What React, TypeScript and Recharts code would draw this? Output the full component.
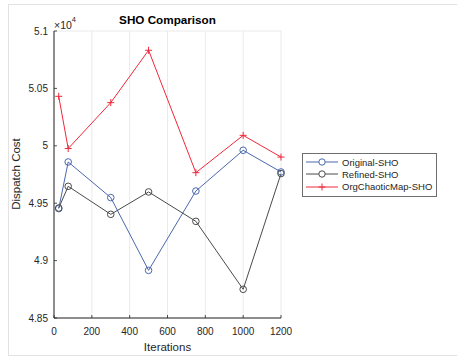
import React from 'react';
import { LineChart, Line, XAxis, YAxis, CartesianGrid } from 'recharts';

const iterations = [25, 75, 300, 500, 750, 1000, 1200];
const originalSHO = [49453, 49859, 49549, 48915, 49606, 49961, 49772];
const refinedSHO = [49458, 49647, 49403, 49598, 49342, 48750, 49758];
const chaoticSHO = [50431, 49976, 50376, 50832, 49766, 50091, 49902];

const xTicks = [0, 200, 400, 600, 800, 1000, 1200];
const yTicks = [48500, 49000, 49500, 50000, 50500, 51000];

const FONT = '"Liberation Sans", Arial, Helvetica, sans-serif';
const AXIS = '#262626';
const BLUE = '#4a68ad';
const GRAY = '#4a4a4a';
const RED = '#f0283a';

const series = [
  { key: 'original', name: 'Original-SHO', color: BLUE, marker: 'circle' },
  { key: 'refined', name: 'Refined-SHO', color: GRAY, marker: 'circle' },
  { key: 'chaotic', name: 'OrgChaoticMap-SHO', color: RED, marker: 'plus' },
];

const data = iterations.map((it, i) => ({
  it,
  original: originalSHO[i],
  refined: refinedSHO[i],
  chaotic: chaoticSHO[i],
}));

const fmtY = (v: number) => String(parseFloat((v / 1e4).toFixed(2)));

const BottomTick = (p: any) => (
  <g>
    <line x1={p.x} x2={p.x} y1={p.y} y2={p.y - 3} stroke={AXIS} strokeWidth={0.8} />
    <text x={p.x} y={p.y + 17} textAnchor="middle" fontSize={10} fill={AXIS} fontFamily={FONT}>
      {p.payload.value}
    </text>
  </g>
);

const TopTick = (p: any) => (
  <line x1={p.x} x2={p.x} y1={p.y} y2={p.y + 3} stroke={AXIS} strokeWidth={0.8} />
);

const LeftTick = (p: any) => (
  <g>
    <line x1={p.x} x2={p.x + 3} y1={p.y} y2={p.y} stroke={AXIS} strokeWidth={0.8} />
    <text x={p.x - 6} y={p.y + 3.5} textAnchor="end" fontSize={10} fill={AXIS} fontFamily={FONT}>
      {fmtY(p.payload.value)}
    </text>
  </g>
);

const RightTick = (p: any) => (
  <line x1={p.x} x2={p.x - 3} y1={p.y} y2={p.y} stroke={AXIS} strokeWidth={0.8} />
);

const PlusDot = (p: any) => {
  const { cx, cy, index } = p;
  if (cx == null || cy == null) return <g key={index} />;
  return (
    <path
      key={index}
      d={`M${cx - 3.5},${cy}h7M${cx},${cy - 3.5}v7`}
      stroke={RED}
      strokeWidth={1}
      fill="none"
    />
  );
};

function LegendBox() {
  return (
    <div
      style={{
        position: 'absolute',
        left: 302,
        top: 153,
        width: 133,
        height: 42,
        border: '1px solid #6e6e6e',
        background: '#fff',
        fontFamily: FONT,
        fontSize: 9.5,
        color: AXIS,
      }}
    >
      {series.map((s, i) => (
        <div
          key={s.key}
          style={{ position: 'absolute', left: 2, top: 2 + i * 12.3, height: 12, display: 'flex', alignItems: 'center' }}
        >
          <svg width={34} height={12}>
            <line x1={1} x2={33} y1={6} y2={6} stroke={s.color} strokeWidth={1} />
            {s.marker === 'circle' ? (
              <circle cx={17} cy={6} r={3.2} fill="#fff" stroke={s.color} strokeWidth={1} />
            ) : (
              <path d="M13.5,6h7M17,2.5v7" stroke={s.color} strokeWidth={1} />
            )}
          </svg>
          <span style={{ marginLeft: 3, whiteSpace: 'nowrap' }}>{s.name}</span>
        </div>
      ))}
    </div>
  );
}

export default function App() {
  return (
    <div style={{ position: 'absolute', left: 0, top: 0, width: 457, height: 358, background: '#fff', fontFamily: FONT }}>
      <div
        style={{
          position: 'absolute',
          left: 8,
          top: 4,
          width: 460,
          height: 350,
          border: '1px solid #e2e2e2',
        }}
      />
      <LineChart
        width={457}
        height={358}
        data={data}
        margin={{ top: 31, right: 176, left: 0, bottom: 0 }}
        style={{ position: 'absolute', left: 0, top: 0 }}
      >
        <CartesianGrid stroke="#e4e4e4" strokeWidth={0.8} />
        <XAxis
          xAxisId="b"
          dataKey="it"
          type="number"
          domain={[0, 1200]}
          ticks={xTicks}
          height={40}
          tickSize={0}
          tickMargin={0}
          tickLine={false}
          axisLine={{ stroke: AXIS, strokeWidth: 1 }}
          tick={<BottomTick />}
          interval={0}
        />
        <XAxis
          xAxisId="t"
          orientation="top"
          dataKey="it"
          type="number"
          domain={[0, 1200]}
          ticks={xTicks}
          height={0}
          tickSize={0}
          tickMargin={0}
          tickLine={false}
          axisLine={{ stroke: AXIS, strokeWidth: 1 }}
          tick={<TopTick />}
          interval={0}
        />
        <YAxis
          yAxisId="l"
          type="number"
          domain={[48500, 51000]}
          ticks={yTicks}
          width={54}
          tickSize={0}
          tickMargin={0}
          tickLine={false}
          axisLine={{ stroke: AXIS, strokeWidth: 1 }}
          tick={<LeftTick />}
          interval={0}
        />
        <YAxis
          yAxisId="r"
          orientation="right"
          type="number"
          domain={[48500, 51000]}
          ticks={yTicks}
          width={0}
          tickSize={0}
          tickMargin={0}
          tickLine={false}
          axisLine={{ stroke: AXIS, strokeWidth: 1 }}
          tick={<RightTick />}
          interval={0}
        />
        {series.map((s) => (
          <Line
            key={s.key}
            xAxisId="b"
            yAxisId="l"
            dataKey={s.key}
            name={s.name}
            type="linear"
            stroke={s.color}
            strokeWidth={1}
            isAnimationActive={false}
            dot={
              s.marker === 'plus'
                ? (props: any) => <PlusDot {...props} />
                : { r: 3.3, fill: 'none', stroke: s.color, strokeWidth: 1 }
            }
            activeDot={false}
          />
        ))}
      </LineChart>
      <div
        style={{
          position: 'absolute',
          left: 54,
          width: 227,
          top: 13,
          textAlign: 'center',
          fontWeight: 'bold',
          fontSize: 11.7,
          color: '#000',
          lineHeight: '14px',
        }}
      >
        SHO Comparison
      </div>
      <div style={{ position: 'absolute', left: 54, top: 19, fontSize: 10.5, color: AXIS, lineHeight: '12px' }}>
        ×10<sup style={{ fontSize: 7.5, verticalAlign: 'top', position: 'relative', top: -5 }}>4</sup>
      </div>
      <div
        style={{
          position: 'absolute',
          left: 54,
          width: 227,
          top: 340,
          textAlign: 'center',
          fontSize: 11.5,
          color: AXIS,
          lineHeight: '14px',
        }}
      >
        Iterations
      </div>
      <div
        style={{
          position: 'absolute',
          left: 16,
          top: 174,
          transform: 'translate(-50%, -50%) rotate(-90deg)',
          fontSize: 11.5,
          color: AXIS,
          whiteSpace: 'nowrap',
          lineHeight: '14px',
        }}
      >
        Dispatch Cost
      </div>
      <LegendBox />
    </div>
  );
}
